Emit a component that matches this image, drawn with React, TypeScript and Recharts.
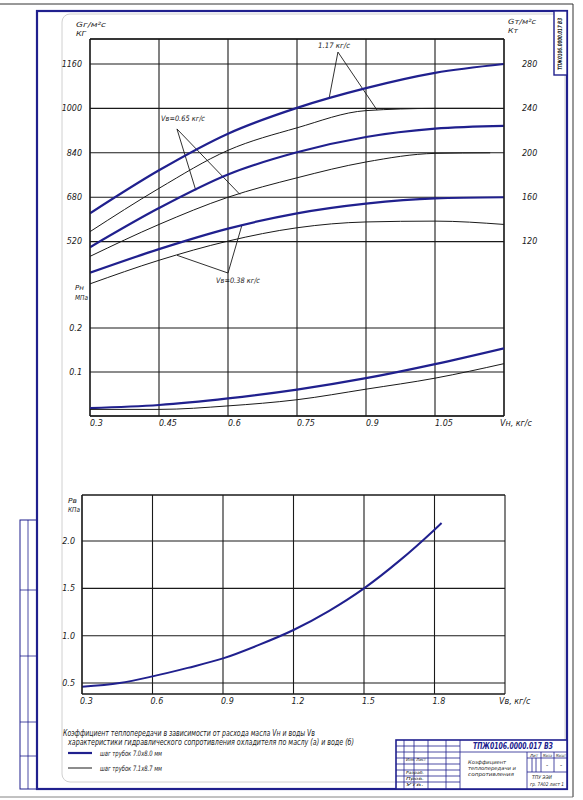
import React from 'react';
import { LineChart, Line, XAxis, YAxis, CartesianGrid, ReferenceLine } from 'recharts';

// oil flow Vн, kg/s (top chart)
const vnPoints = [0.3, 0.45, 0.6, 0.75, 0.9, 1.05, 1.2];
const vnPointsShort = [0.3, 0.45, 0.6, 0.75, 0.9, 1.05, 1.17];

// heat transfer, thick = 7.0x8.0 tubes, thin = 7.1x8.7 tubes
const gThick117 = [622, 777, 909, 1002, 1073, 1128, 1160];
const gThin117 = [556, 712, 849, 930, 992, 1000, 1000];
const gThick065 = [500, 641, 762, 842, 897, 927, 937];
const gThin065 = [467, 582, 680, 750, 807, 838, 840];
const gThick038 = [408, 493, 567, 622, 657, 676, 680];
const gThin038 = [368, 453, 522, 570, 591, 594, 582];

// oil pressure drop Pн, MPa
const pnThick = [0.018, 0.025, 0.04, 0.06, 0.086, 0.118, 0.154];
const pnThin = [0.015, 0.015, 0.023, 0.037, 0.061, 0.086, 0.119];

// water side (bottom chart)
const vvPoints = [0.3, 0.46, 0.6, 0.75, 0.9, 1.05, 1.2, 1.35, 1.5, 1.65, 1.8, 1.83];
const pvValues = [0.46, 0.5, 0.57, 0.66, 0.76, 0.9, 1.06, 1.26, 1.5, 1.79, 2.12, 2.19];

const vnTicks = [0.3, 0.45, 0.6, 0.75, 0.9, 1.05, 1.2];
const gTicks = [520, 680, 840, 1000, 1160];
const kTicks = [120, 160, 200, 240, 280];
const pnTicks = [0.1, 0.2];
const vvTicks = [0.3, 0.6, 0.9, 1.2, 1.5, 1.8, 2.1];
const pvTicks = [0.5, 1.0, 1.5, 2.0];

const BLUE = '#20208e';
const INK = '#1a1a1a';
const FONT = "'DejaVu Sans', sans-serif";

const rows = (xs: number[], ys: number[]) => xs.map((v, i) => ({ v, y: ys[i] }));

const tickStyle = { fontSize: 8, fontStyle: 'italic', fontFamily: FONT, fill: INK };

function XTick(props: any) {
  const { x, y, payload, lastValue, lastText } = props;
  const isLast = payload.value === lastValue;
  return (
    <text x={x + (isLast ? -4 : 0)} y={y} dy="0.71em" textAnchor="start" {...tickStyle}>
      {isLast ? lastText : String(payload.value)}
    </text>
  );
}

function T({ x, y, w, size = 8, children, bold = false, anchor = 'start', fill = INK }: any) {
  return (
    <text x={x} y={y} fontSize={size} fontStyle="italic" fontWeight={bold ? 700 : 400} fontFamily={FONT}
      fill={fill} textAnchor={anchor} textLength={w} lengthAdjust={w ? 'spacingAndGlyphs' : undefined}>
      {children}
    </text>
  );
}

function Sheet() {
  const hl = (y: number, x1: number, x2: number) => <line x1={x1} x2={x2} y1={y} y2={y} stroke={BLUE} strokeWidth={0.8} />;
  const vl = (x: number, y1: number, y2: number) => <line x1={x} x2={x} y1={y1} y2={y2} stroke={BLUE} strokeWidth={0.8} />;
  return (
    <svg width={583} height={800} style={{ position: 'absolute', left: 0, top: 0 }}>
      {/* outer page lines */}
      <line x1={0} x2={573} y1={4} y2={4} stroke="#333" strokeWidth={1} />
      <line x1={573} x2={573} y1={4} y2={797} stroke="#333" strokeWidth={1} />
      <line x1={0} x2={573} y1={797} y2={797} stroke="#666" strokeWidth={0.8} />
      {/* faint inner rounded frame */}
      <rect x={62} y={14} width={503} height={768} rx={8} fill="none" stroke="#d0d0d0" strokeWidth={1} />
      {/* main blue frame */}
      <rect x={37} y={11} width={530} height={778} fill="none" stroke={BLUE} strokeWidth={2.2} />
      {/* top-right stamp */}
      <rect x={554} y={11} width={13} height={64} fill="#fff" stroke={BLUE} strokeWidth={1.4} />
      <g transform="translate(562,70) rotate(-90)">
        <T x={0} y={0} w={52} size={6} bold>ТПЖ0106.0000.017 ВЗ</T>
      </g>
      {/* left strip */}
      <rect x={20} y={520} width={17} height={269} fill="none" stroke={BLUE} strokeWidth={1} />
      {vl(28, 520, 789)}
      {hl(590, 20, 37)}
      {hl(656, 20, 37)}
      {hl(722, 20, 37)}
      {hl(756, 20, 37)}
      {/* axis titles top chart */}
      <T x={76} y={27} w={30} size={7}>Gг/м²с</T>
      <T x={76} y={36} w={10} size={7}>КГ</T>
      <T x={508} y={24} w={28} size={7}>Gт/м²с</T>
      <T x={508} y={33} w={10} size={7}>Кт</T>
      <T x={75} y={290} w={9} size={7}>Pн</T>
      <T x={75} y={300} w={13} size={7}>МПа</T>
      {/* curve annotations */}
      <T x={318} y={48} w={32} size={7.5}>1.17 кг/с</T>
      <T x={161} y={121} w={44} size={7.5}>Vв=0.65 кг/с</T>
      <T x={216} y={283} w={44} size={7.5}>Vв=0.38 кг/с</T>
      {/* axis titles bottom chart */}
      <T x={68} y={503} w={9} size={7}>Pв</T>
      <T x={68} y={512} w={12} size={7}>КПа</T>
      {/* caption and legend */}
      <T x={63} y={736} w={252} size={8}>Коэффициент теплопередачи в зависимости от расхода масла Vн и воды Vв</T>
      <T x={68} y={745} w={286} size={8}>характеристики гидравлического сопротивления охладителя по маслу (а) и воде (б)</T>
      <line x1={68} x2={92} y1={753} y2={753} stroke={BLUE} strokeWidth={2.2} />
      <T x={100} y={756} w={62} size={7.5}>шаг трубок 7.0х8.0 мм</T>
      <line x1={68} x2={92} y1={768} y2={768} stroke={INK} strokeWidth={1} />
      <T x={100} y={771} w={62} size={7.5}>шаг трубок 7.1х8.7 мм</T>
      {/* title block */}
      <rect x={396} y={740} width={171} height={49} fill="#fff" stroke={BLUE} strokeWidth={1.6} />
      {vl(404, 740, 789)}
      {vl(414, 740, 789)}
      {vl(428, 740, 789)}
      {vl(446, 740, 789)}
      {vl(460, 740, 789)}
      {[746, 752, 758, 764, 770, 776, 782].map((y) => <React.Fragment key={y}>{hl(y, 396, 460)}</React.Fragment>)}
      {hl(752, 460, 567)}
      {vl(527, 752, 789)}
      {hl(758, 527, 567)}
      {hl(772, 527, 567)}
      {vl(541, 752, 772)}
      {vl(554, 752, 772)}
      {vl(532, 758, 772)}
      {vl(536, 758, 772)}
      <T x={513} y={749} w={80} size={8.5} bold anchor="middle" fill={BLUE}>ТПЖ0106.0000.017 ВЗ</T>
      <T x={468} y={764} w={38} size={5}>Коэффициент</T>
      <T x={468} y={770} w={48} size={5}>теплопередачи и</T>
      <T x={468} y={776} w={46} size={5}>сопротивления</T>
      <T x={530} y={757} w={8} size={4}>Лит</T>
      <T x={543} y={757} w={9} size={4}>Масса</T>
      <T x={556} y={757} w={10} size={4}>Масшт</T>
      <T x={547} y={767} size={6} anchor="middle">-</T>
      <T x={561} y={767} size={6} anchor="middle">-</T>
      <T x={532} y={779} w={20} size={5}>ТПУ ЭЭИ</T>
      <T x={530} y={786} w={34} size={5}>гр. 7А02 лист 1</T>
      <T x={406} y={761} w={20} size={4}>Изм. Лист</T>
      <T x={406} y={774} w={18} size={4}>Разраб.</T>
      <T x={406} y={780} w={18} size={4}>Пров.</T>
      <T x={406} y={786} w={18} size={4}>Утв.</T>
    </svg>
  );
}

export default function App() {
  const gLines = [
    { d: rows(vnPoints, gThick117), thick: true },
    { d: rows(vnPointsShort, gThin117), thick: false },
    { d: rows(vnPoints, gThick065), thick: true },
    { d: rows(vnPointsShort, gThin065), thick: false },
    { d: rows(vnPoints, gThick038), thick: true },
    { d: rows(vnPoints, gThin038), thick: false },
  ];
  const leaders = [
    [{ x: 0.839, y: 1203 }, { x: 0.82, y: 1038 }],
    [{ x: 0.839, y: 1203 }, { x: 0.924, y: 994 }],
    [{ x: 0.489, y: 926 }, { x: 0.53, y: 705 }],
    [{ x: 0.489, y: 926 }, { x: 0.626, y: 690 }],
    [{ x: 0.6, y: 407 }, { x: 0.63, y: 578 }],
    [{ x: 0.6, y: 407 }, { x: 0.489, y: 471 }],
  ];
  return (
    <div style={{ position: 'absolute', left: 0, top: 0, width: 583, height: 800, background: '#fff', overflow: 'hidden' }}>
      <Sheet />
      {/* top chart: heat transfer (upper scale) */}
      <div style={{ position: 'absolute', left: 0, top: 0 }}>
        <LineChart width={583} height={440} margin={{ top: 39, right: 39, bottom: 4, left: 50 }}>
          <CartesianGrid yAxisId="g" stroke={INK} strokeWidth={1.1} />
          <XAxis type="number" dataKey="v" domain={[0.3, 1.2]} ticks={vnTicks} height={20} tickSize={0} tickMargin={4}
            axisLine={{ stroke: INK, strokeWidth: 1.2 }} allowDataOverflow
            tick={(p: any) => <XTick {...p} lastValue={1.2} lastText="Vн, кг/с" />} />
          <YAxis yAxisId="g" type="number" domain={[-108, 1250]} ticks={gTicks} width={40} tickLine={false}
            axisLine={{ stroke: INK, strokeWidth: 1.2 }} tick={tickStyle} allowDataOverflow />
          <YAxis yAxisId="k" orientation="right" type="number" domain={[-37, 302.5]} ticks={kTicks} width={40}
            tickLine={false} tickMargin={12} axisLine={{ stroke: INK, strokeWidth: 1.2 }} tick={tickStyle} allowDataOverflow />
          <ReferenceLine yAxisId="g" y={1250} stroke={INK} strokeWidth={1.2} />
          {leaders.map((s, i) => (
            <ReferenceLine key={i} yAxisId="g" segment={s} stroke={INK} strokeWidth={0.9} />
          ))}
          {gLines.map((l, i) => (
            <Line key={i} yAxisId="g" data={l.d} dataKey="y" type="monotone" dot={false} isAnimationActive={false}
              stroke={l.thick ? BLUE : INK} strokeWidth={l.thick ? 2.2 : 1} />
          ))}
        </LineChart>
      </div>
      {/* top chart: oil pressure drop (lower scale) */}
      <div style={{ position: 'absolute', left: 0, top: 0 }}>
        <LineChart width={583} height={440} margin={{ top: 39, right: 79, bottom: 24, left: 50 }}>
          <CartesianGrid yAxisId="p" vertical={false} stroke={INK} strokeWidth={1.1} />
          <XAxis type="number" dataKey="v" domain={[0.3, 1.2]} hide allowDataOverflow />
          <YAxis yAxisId="p" type="number" domain={[0, 0.857]} ticks={pnTicks} width={40} tickLine={false}
            axisLine={false} tick={tickStyle} tickFormatter={(v: number) => v.toFixed(1)} allowDataOverflow />
          <Line yAxisId="p" data={rows(vnPoints, pnThick)} dataKey="y" type="monotone" dot={false}
            isAnimationActive={false} stroke={BLUE} strokeWidth={2.2} />
          <Line yAxisId="p" data={rows(vnPoints, pnThin)} dataKey="y" type="monotone" dot={false}
            isAnimationActive={false} stroke={INK} strokeWidth={1} />
        </LineChart>
      </div>
      {/* bottom chart: water pressure drop */}
      <div style={{ position: 'absolute', left: 0, top: 470 }}>
        <LineChart width={583} height={250} margin={{ top: 25, right: 78, bottom: 6, left: 42 }}>
          <CartesianGrid stroke={INK} strokeWidth={1.1} />
          <XAxis type="number" dataKey="v" domain={[0.3, 2.1]} ticks={vvTicks} height={20} tickSize={0} tickMargin={4}
            axisLine={{ stroke: INK, strokeWidth: 1.2 }} allowDataOverflow
            tick={(p: any) => <XTick {...p} x={p.x - 2} lastValue={2.1} lastText="Vв, кг/с" />} />
          <YAxis type="number" domain={[0.384, 2.486]} ticks={pvTicks} width={40} tickLine={false} tickMargin={1}
            axisLine={{ stroke: INK, strokeWidth: 1.2 }} tick={tickStyle} tickFormatter={(v: number) => v.toFixed(1)} allowDataOverflow />
          <ReferenceLine y={2.486} stroke={INK} strokeWidth={1.2} />
          <Line data={rows(vvPoints, pvValues)} dataKey="y" type="monotone" dot={false} isAnimationActive={false}
            stroke={BLUE} strokeWidth={2} />
        </LineChart>
      </div>
    </div>
  );
}
